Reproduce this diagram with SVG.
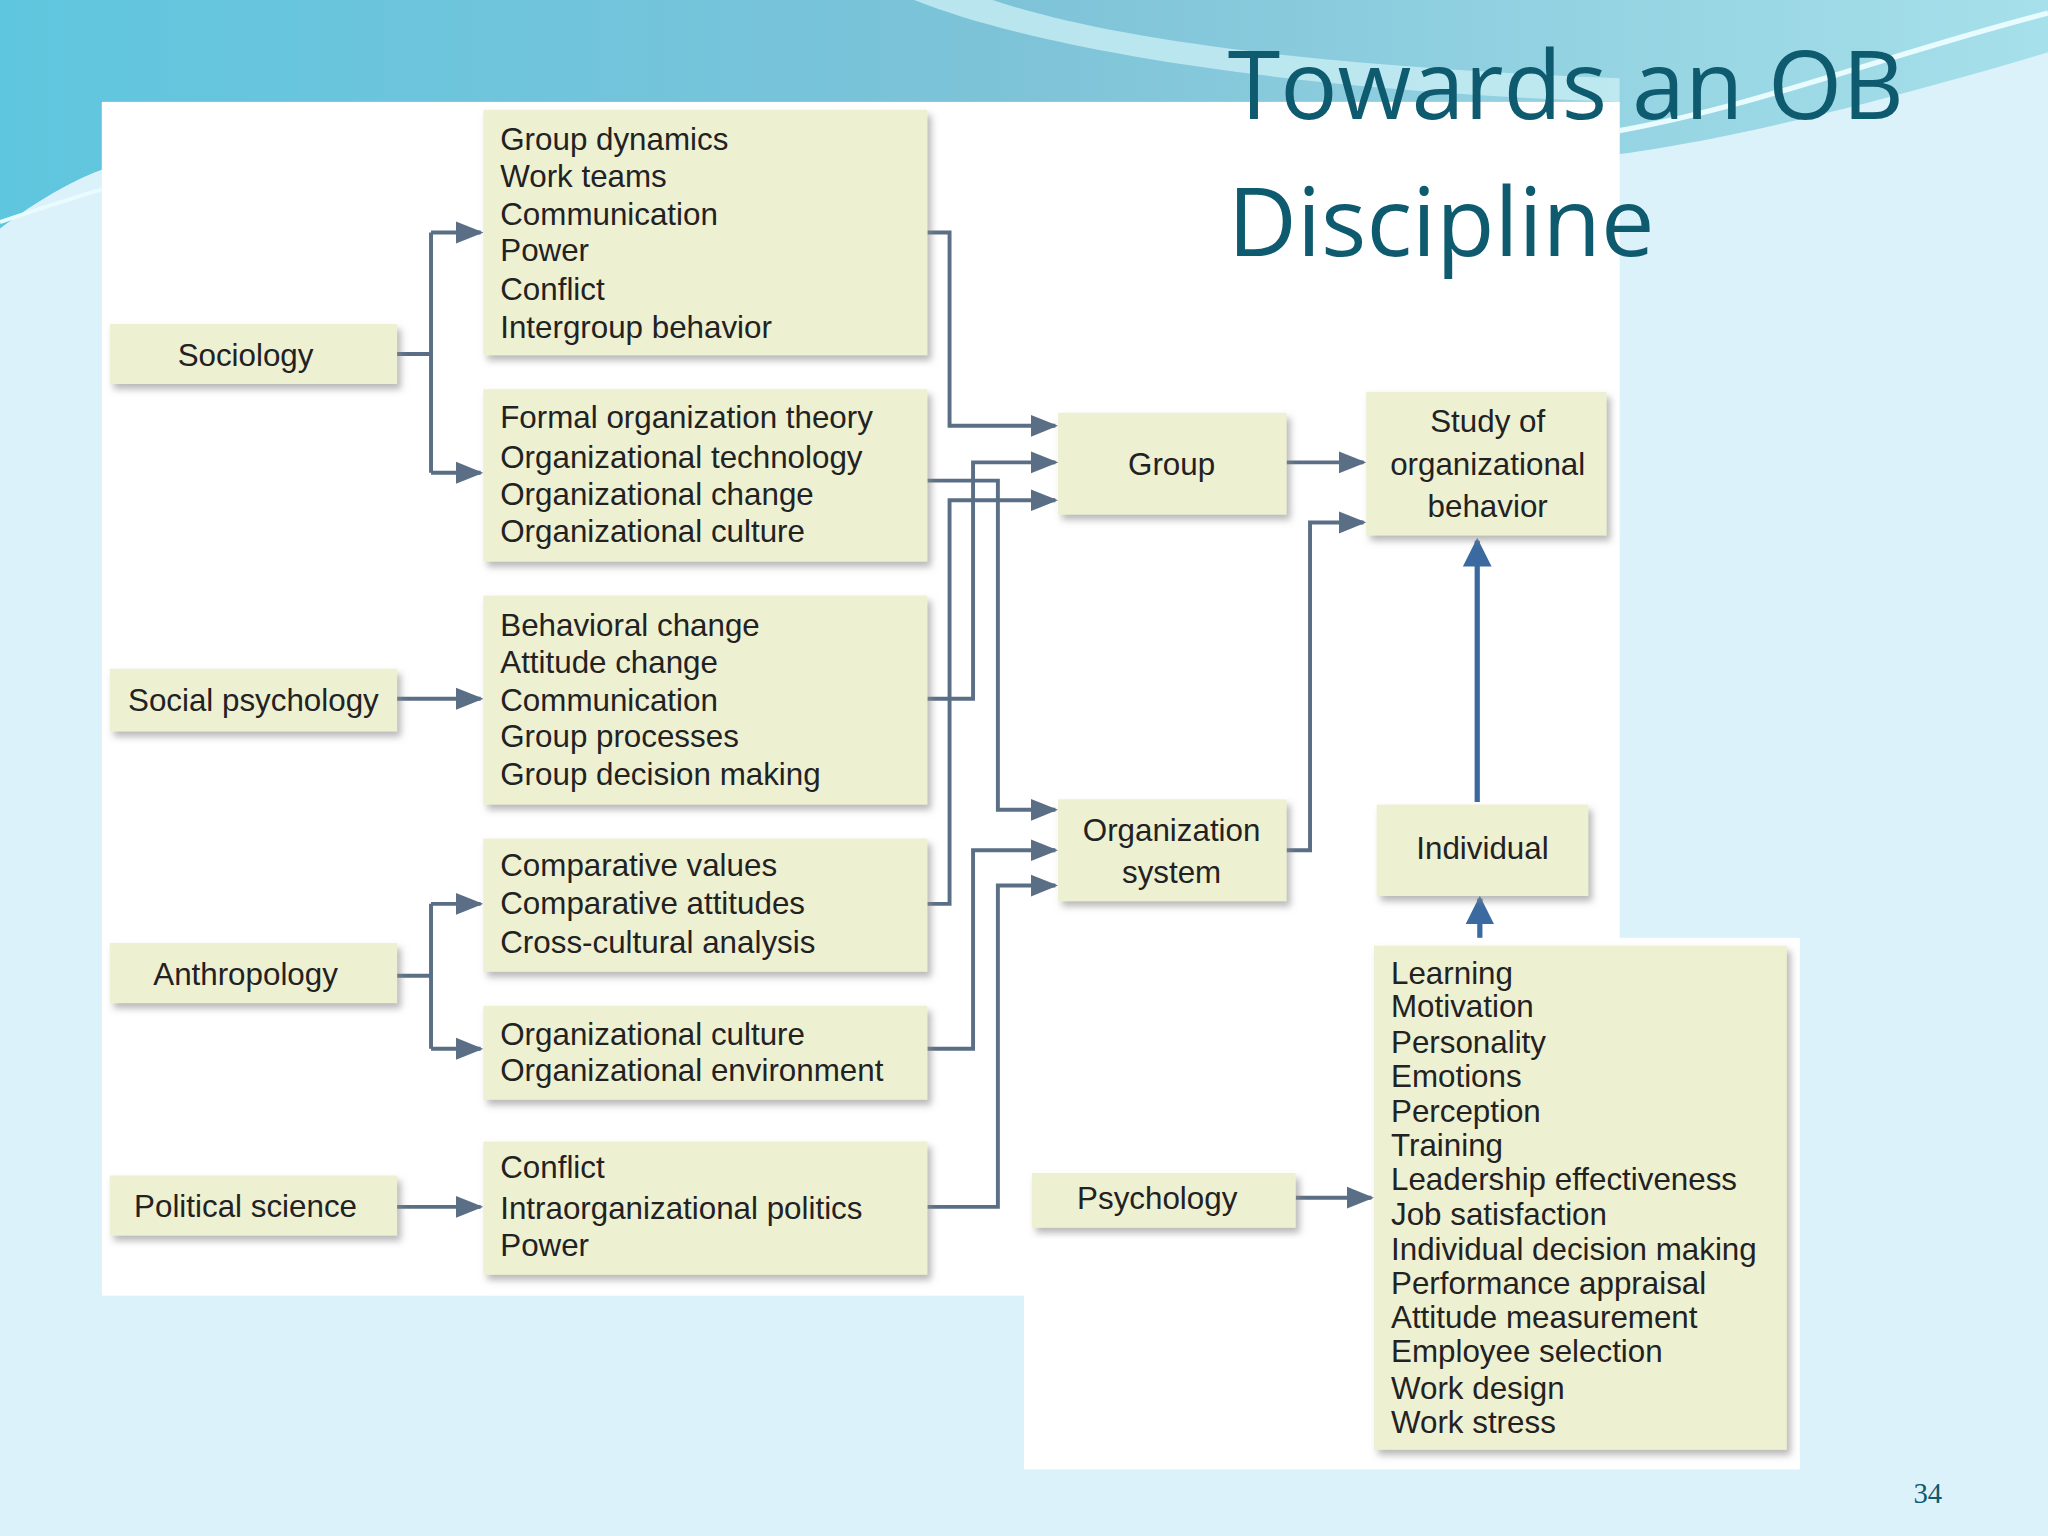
<svg xmlns="http://www.w3.org/2000/svg" width="2048" height="1536" viewBox="0 0 2048 1536">
<defs>
<linearGradient id="top" x1="0" y1="0" x2="1" y2="0"><stop offset="0" stop-color="#5fc6df"/><stop offset="0.5" stop-color="#7ec3d8"/><stop offset="1" stop-color="#a6e0ea"/></linearGradient>
<marker id="ah" viewBox="0 0 10 10" refX="9" refY="5" markerWidth="7" markerHeight="7" orient="auto"><path d="M0,1 L10,5 L0,9 Z" fill="#5a6e85"/></marker>
<marker id="bh" viewBox="0 0 10 10" refX="9" refY="5" markerWidth="5.5" markerHeight="5.5" orient="auto"><path d="M0,0 L10,5 L0,10 Z" fill="#3a6aa0"/></marker>
<filter id="sh" x="-5%" y="-5%" width="115%" height="125%"><feDropShadow dx="3" dy="4" stdDeviation="3" flood-color="#888" flood-opacity="0.6"/></filter>
<style>
.b{fill:#eef0d2;filter:url(#sh)}
.t{font-family:"Liberation Sans",Arial,sans-serif;font-size:24px;fill:#222}
.c{text-anchor:middle}
.l{fill:none;stroke:#5a6e85;stroke-width:3}
</style>
</defs>
<g transform="scale(1.306122)">
<rect width="1568" height="1176" fill="#dcf2fa"/>
<path d="M0,0 H1568 V40 C1400,90 1300,110 1240,118 L1240,78 H78 V130 C50,140 20,160 0,175 Z" fill="url(#top)"/>
<path d="M700,0 C800,40 1000,70 1240,78 L1240,60 C1000,50 850,30 760,0 Z" fill="#c8eef4" opacity="0.8"/>
<path d="M1240,100 C1350,80 1450,40 1568,10" stroke="#e8fbff" stroke-width="4" fill="none"/>
<path d="M0,170 C30,160 60,150 78,145" stroke="#e8fbff" stroke-width="3" fill="none"/>
<rect x="78" y="78" width="1162" height="914" fill="#fff"/>
<rect x="784" y="718" width="594" height="407" fill="#fff"/>
<text x="940" y="91" font-family="'Open Sans','Noto Sans',sans-serif" font-size="73" fill="#0e5a6e">Towards an OB</text>
<text x="940" y="196" font-family="'Open Sans','Noto Sans',sans-serif" font-size="73" fill="#0e5a6e">Discipline</text>
<text x="1476" y="1151" font-family="'Liberation Serif',serif" font-size="22" fill="#0e5a6e" text-anchor="middle">34</text>

<g id="connectors">
<path class="l" d="M304,271 H330 M330,178 V362"/>
<path class="l" marker-end="url(#ah)" d="M330,178 H368"/>
<path class="l" marker-end="url(#ah)" d="M330,362 H368"/>
<path class="l" marker-end="url(#ah)" d="M304,535 H368"/>
<path class="l" d="M304,747 H330 M330,692 V803"/>
<path class="l" marker-end="url(#ah)" d="M330,692 H368"/>
<path class="l" marker-end="url(#ah)" d="M330,803 H368"/>
<path class="l" marker-end="url(#ah)" d="M304,924 H368"/>
<path class="l" marker-end="url(#ah)" d="M710,178 H727 V326 H808"/>
<path class="l" marker-end="url(#ah)" d="M710,368 H764 V620 H808"/>
<path class="l" marker-end="url(#ah)" d="M710,535 H745 V354 H808"/>
<path class="l" marker-end="url(#ah)" d="M710,692 H727 V383 H808"/>
<path class="l" marker-end="url(#ah)" d="M710,803 H745 V651 H808"/>
<path class="l" marker-end="url(#ah)" d="M710,924 H764 V678 H808"/>
<path class="l" marker-end="url(#ah)" d="M985,354 H1044"/>
<path class="l" marker-end="url(#ah)" d="M985,651 H1003 V400 H1044"/>
<path class="l" marker-end="url(#ah)" d="M992,917 H1050"/>
<path d="M1131,614 V414" stroke="#3a6aa0" stroke-width="4" fill="none" marker-end="url(#bh)"/>
<path d="M1133,718 V688" stroke="#3a6aa0" stroke-width="4" fill="none" marker-end="url(#bh)"/>
</g>

<g id="sociology"><rect class="b" x="84" y="248" width="220" height="46"/><text class="t c" x="188" y="280">Sociology</text></g>
<g id="socialpsych"><rect class="b" x="84" y="512" width="220" height="48"/><text class="t c" x="194" y="544">Social psychology</text></g>
<g id="anthropology"><rect class="b" x="84" y="722" width="220" height="46"/><text class="t c" x="188" y="754">Anthropology</text></g>
<g id="polisci"><rect class="b" x="84" y="900" width="220" height="46"/><text class="t c" x="188" y="932">Political science</text></g>

<g id="box1"><rect class="b" x="370" y="84" width="340" height="188"/>
<text class="t" x="383" y="115">Group dynamics</text><text class="t" x="383" y="143">Work teams</text><text class="t" x="383" y="172">Communication</text><text class="t" x="383" y="200">Power</text><text class="t" x="383" y="230">Conflict</text><text class="t" x="383" y="259">Intergroup behavior</text></g>
<g id="box2"><rect class="b" x="370" y="298" width="340" height="132"/>
<text class="t" x="383" y="328">Formal organization theory</text><text class="t" x="383" y="358">Organizational technology</text><text class="t" x="383" y="387">Organizational change</text><text class="t" x="383" y="415">Organizational culture</text></g>
<g id="box3"><rect class="b" x="370" y="456" width="340" height="160"/>
<text class="t" x="383" y="487">Behavioral change</text><text class="t" x="383" y="515">Attitude change</text><text class="t" x="383" y="544">Communication</text><text class="t" x="383" y="572">Group processes</text><text class="t" x="383" y="601">Group decision making</text></g>
<g id="box4"><rect class="b" x="370" y="642" width="340" height="102"/>
<text class="t" x="383" y="671">Comparative values</text><text class="t" x="383" y="700">Comparative attitudes</text><text class="t" x="383" y="730">Cross-cultural analysis</text></g>
<g id="box5"><rect class="b" x="370" y="770" width="340" height="72"/>
<text class="t" x="383" y="800">Organizational culture</text><text class="t" x="383" y="828">Organizational environment</text></g>
<g id="box6"><rect class="b" x="370" y="874" width="340" height="102"/>
<text class="t" x="383" y="902">Conflict</text><text class="t" x="383" y="933">Intraorganizational politics</text><text class="t" x="383" y="962">Power</text></g>

<g id="group"><rect class="b" x="810" y="316" width="175" height="78"/><text class="t c" x="897" y="364">Group</text></g>
<g id="orgsystem"><rect class="b" x="810" y="612" width="175" height="78"/><text class="t c" x="897" y="644">Organization</text><text class="t c" x="897" y="676">system</text></g>
<g id="study"><rect class="b" x="1046" y="300" width="184" height="110"/><text class="t c" x="1139" y="331">Study of</text><text class="t c" x="1139" y="364">organizational</text><text class="t c" x="1139" y="396">behavior</text></g>
<g id="individual"><rect class="b" x="1054" y="616" width="162" height="70"/><text class="t c" x="1135" y="658">Individual</text></g>
<g id="psychology"><rect class="b" x="790" y="898" width="202" height="42"/><text class="t c" x="886" y="926">Psychology</text></g>
<g id="psychlist"><rect class="b" x="1052" y="724" width="316" height="386"/>
<g class="t" font-size="23">
<text x="1065" y="753">Learning</text><text x="1065" y="779">Motivation</text><text x="1065" y="806">Personality</text><text x="1065" y="832">Emotions</text><text x="1065" y="859">Perception</text><text x="1065" y="885">Training</text><text x="1065" y="911">Leadership effectiveness</text><text x="1065" y="938">Job satisfaction</text><text x="1065" y="965">Individual decision making</text><text x="1065" y="991">Performance appraisal</text><text x="1065" y="1017">Attitude measurement</text><text x="1065" y="1043">Employee selection</text><text x="1065" y="1071">Work design</text><text x="1065" y="1097">Work stress</text>
</g></g>
</g>
</svg>
